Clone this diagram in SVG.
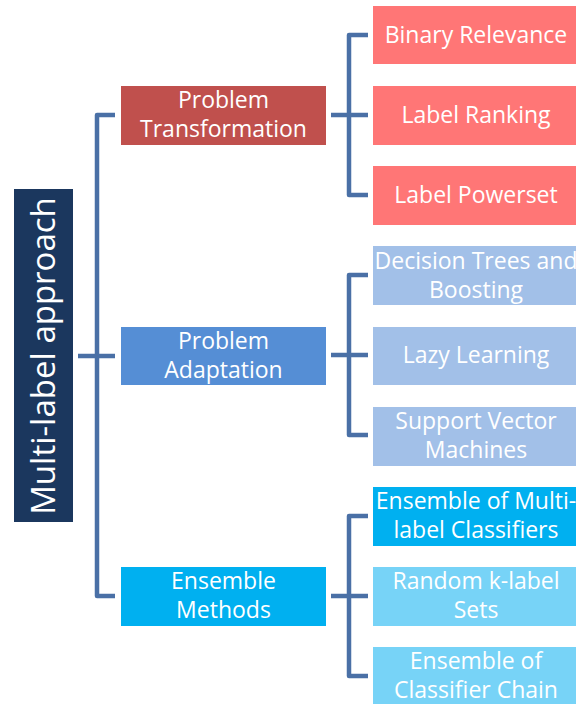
<svg xmlns="http://www.w3.org/2000/svg" width="576" height="704" viewBox="0 0 576 704">
<style>
text{font-family:"Open Sans","Liberation Sans",sans-serif;fill:#fff;text-anchor:middle}
.n{font-size:23px}
.c{fill:none;stroke:#4A70A6;stroke-width:4.5;stroke-linejoin:round}
</style>
<rect width="576" height="704" fill="#fff"/>
<g id="connectors">
<path class="c" d="M115,115 H97 V596 H115 M78,356 H115"/>
<path class="c" d="M368,35 H349 V195 H368 M331,115 H368"/>
<path class="c" d="M368,275 H349 V435 H368 M331,355 H368"/>
<path class="c" d="M368,516 H349 V676 H368 M331,596 H368"/>
</g>
<g id="root">
<rect x="14" y="189" width="59" height="333" fill="#1B375E"/>
<text transform="translate(55,356) rotate(-90)" font-size="33">Multi-label approach</text>
</g>
<g id="problem-transformation">
<rect x="121" y="86" width="205" height="59" fill="#C0504D"/>
<text class="n" x="223.5" y="108">Problem</text>
<text class="n" x="223.5" y="137">Transformation</text>
</g>
<g id="binary-relevance">
<rect x="373" y="6" width="206" height="58" fill="#FF7676"/>
<text class="n" x="476" y="43">Binary Relevance</text>
</g>
<g id="label-ranking">
<rect x="373" y="86" width="206" height="59" fill="#FF7676"/>
<text class="n" x="476" y="122.5">Label Ranking</text>
</g>
<g id="label-powerset">
<rect x="373" y="166" width="206" height="59" fill="#FF7676"/>
<text class="n" x="476" y="202.5">Label Powerset</text>
</g>
<g id="problem-adaptation">
<rect x="121" y="327" width="205" height="58" fill="#558ED5"/>
<text class="n" x="223.5" y="348.5">Problem</text>
<text class="n" x="223.5" y="377.5">Adaptation</text>
</g>
<g id="decision-trees">
<rect x="373" y="246" width="206" height="59" fill="#A2C0E8"/>
<text class="n" x="476" y="268.5">Decision Trees and</text>
<text class="n" x="476" y="297.5">Boosting</text>
</g>
<g id="lazy-learning">
<rect x="373" y="327" width="206" height="58" fill="#A2C0E8"/>
<text class="n" x="476" y="363">Lazy Learning</text>
</g>
<g id="svm">
<rect x="373" y="407" width="206" height="59" fill="#A2C0E8"/>
<text class="n" x="476" y="428.5">Support Vector</text>
<text class="n" x="476" y="457.5">Machines</text>
</g>
<g id="ensemble-methods">
<rect x="121" y="567" width="205" height="59" fill="#00B0F0"/>
<text class="n" x="223.5" y="589">Ensemble</text>
<text class="n" x="223.5" y="618">Methods</text>
</g>
<g id="emlc">
<rect x="373" y="487" width="206" height="59" fill="#00B0F0"/>
<text class="n" x="476" y="509">Ensemble of Multi-</text>
<text class="n" x="476" y="538">label Classifiers</text>
</g>
<g id="rakel">
<rect x="373" y="567" width="206" height="59" fill="#77D3F7"/>
<text class="n" x="476" y="589">Random k-label</text>
<text class="n" x="476" y="618">Sets</text>
</g>
<g id="ecc">
<rect x="373" y="647" width="206" height="59" fill="#77D3F7"/>
<text class="n" x="476" y="669">Ensemble of</text>
<text class="n" x="476" y="698">Classifier Chain</text>
</g>
</svg>
